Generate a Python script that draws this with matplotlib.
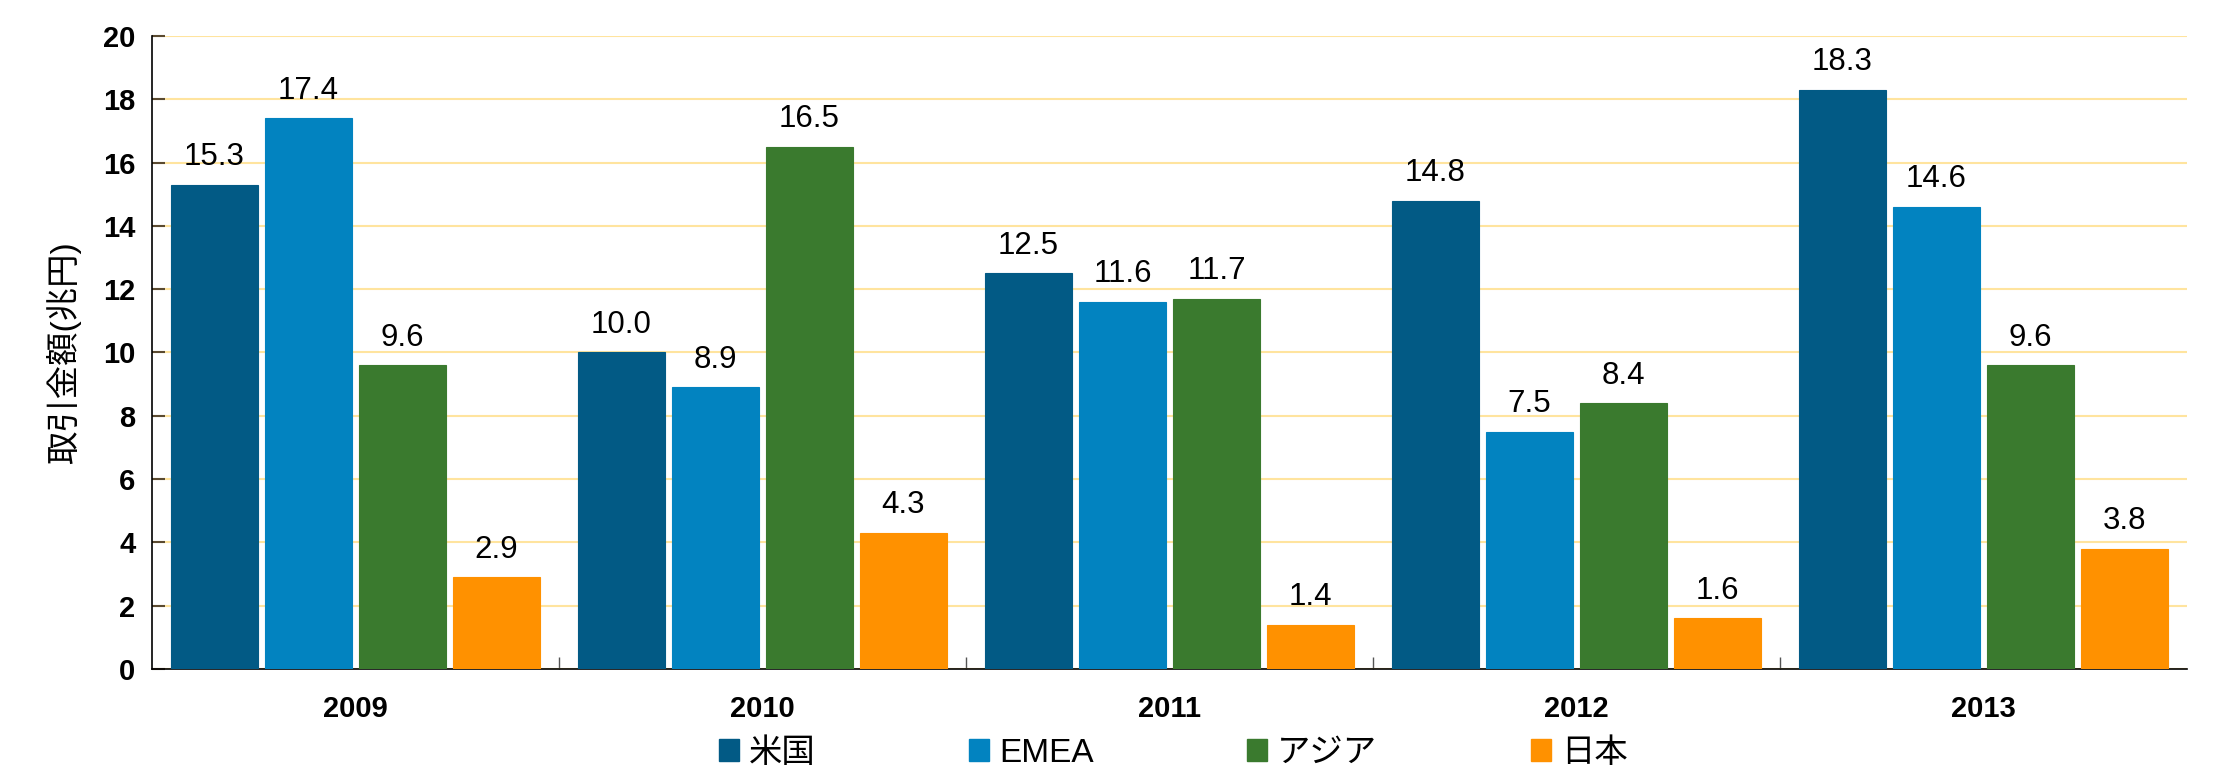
import matplotlib
matplotlib.use("Agg")
import matplotlib.pyplot as plt
import numpy as np
from matplotlib.patches import Patch

plt.rcParams['font.family'] = ['Liberation Sans', 'Noto Sans CJK JP', 'DejaVu Sans']

# データ
years = ['2009', '2010', '2011', '2012', '2013']
series_names = ['米国', 'EMEA', 'アジア', '日本']
usa = [15.3, 10.0, 12.5, 14.8, 18.3]
emea = [17.4, 8.9, 11.6, 7.5, 14.6]
asia = [9.6, 16.5, 11.7, 8.4, 9.6]
japan = [2.9, 4.3, 1.4, 1.6, 3.8]
colors = ['#025A85', '#0283C0', '#3A7A2E', '#FF9100']
ylabel = '取引金額(兆円)'

fig = plt.figure(figsize=(22.18, 7.75), dpi=100)
ax = fig.add_axes([0.0685, 0.137, 0.9175, 0.8165])

x = np.arange(len(years))
step = 0.231
width = 0.214
offsets = (np.arange(4) - 1.5) * step

for vals, name, c, off in zip([usa, emea, asia, japan], series_names, colors, offsets):
    bars = ax.bar(x + off, vals, width, color=c, edgecolor=c, linewidth=0.8, zorder=3)
    for b, v in zip(bars, vals):
        ax.annotate(f'{v:.1f}', (b.get_x() + b.get_width() / 2, v),
                    xytext=(0, 9), textcoords='offset points',
                    ha='center', va='bottom', fontsize=22.5, zorder=4)

ax.set_xlim(-0.5, len(years) - 0.5)
ax.set_ylim(0, 20)
ax.set_yticks(np.arange(0, 21, 2))
ax.yaxis.grid(True, color='#FFE49E', linewidth=1.5, zorder=0)
ax.set_axisbelow(True)

ax.set_xticks(x)
ax.set_xticklabels(years, fontsize=21, fontweight='bold')
ax.tick_params(axis='x', which='major', length=0, pad=19)
ax.set_xticks(np.arange(-0.5, len(years), 1)[1:-1], minor=True)
ax.tick_params(axis='x', which='minor', direction='in', length=9, color='#555555', width=1)
ax.tick_params(axis='y', direction='in', length=9, color='#5a4a30', width=1.5, labelsize=21, pad=12)
for lab in ax.get_yticklabels():
    lab.set_fontweight('bold')

for s in ['top', 'right']:
    ax.spines[s].set_visible(False)
ax.spines['left'].set_color('black')
ax.spines['bottom'].set_color('black')
ax.spines['left'].set_linewidth(1.2)
ax.spines['bottom'].set_linewidth(1.2)

ax.set_ylabel(ylabel, fontsize=24, labelpad=16)

handles = [Patch(facecolor=c, edgecolor=c) for c in colors]
fig.legend(handles, series_names, loc='center', bbox_to_anchor=(0.529, 0.028),
           ncol=4, frameon=False, fontsize=24, handlelength=0.6, handleheight=0.6,
           handletextpad=0.3, columnspacing=4.6)

fig.savefig('out.png', dpi=100)
